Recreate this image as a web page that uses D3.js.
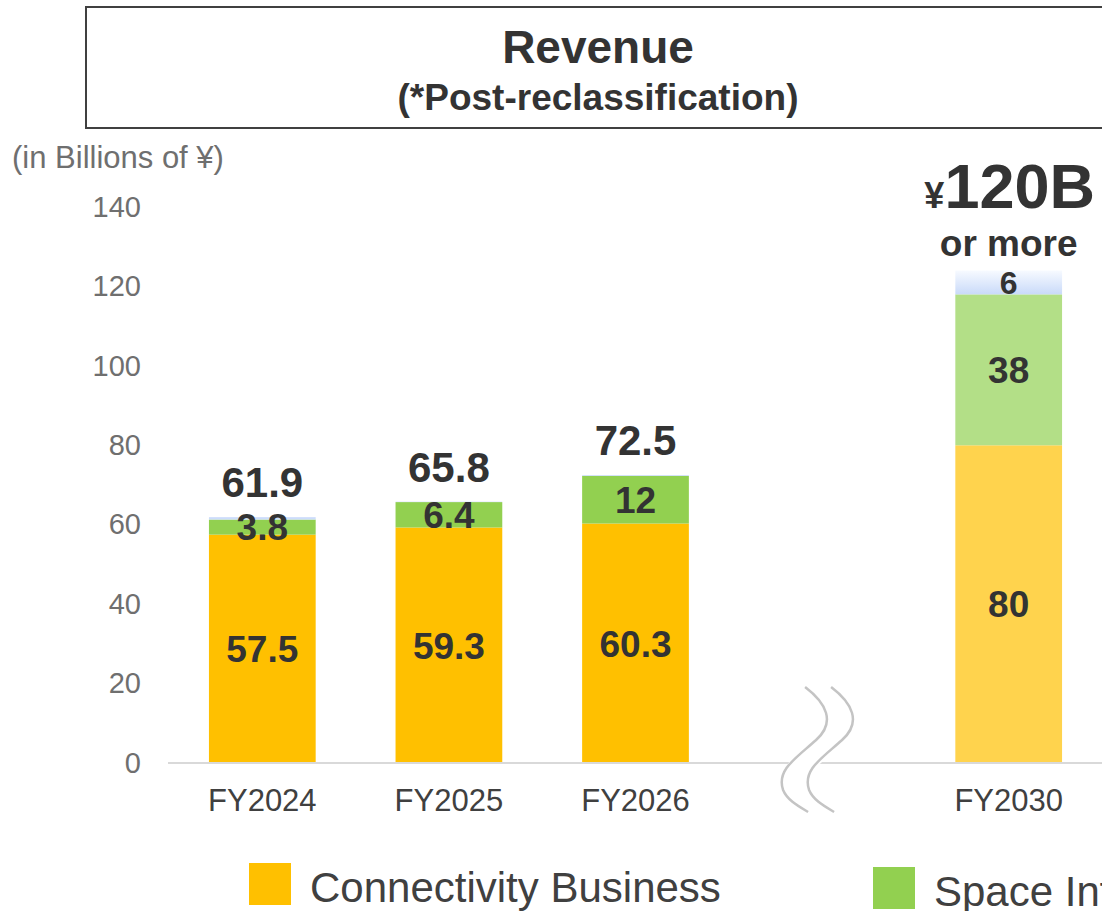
<!DOCTYPE html>
<html>
<head>
<meta charset="utf-8">
<script src="https://cdn.jsdelivr.net/npm/d3@7"></script>
<style>
  body { margin: 0; background: #fff; overflow: hidden; }
  svg { display: block; font-family: Arial, "Liberation Sans", sans-serif; }
  .ytick text { fill: #6f6f6f; font-size: 29px; }
  .xtick text { fill: #404040; font-size: 31px; }
  .seg { fill: #333; font-weight: bold; text-anchor: middle; }
  .total { fill: #333; font-weight: bold; font-size: 42px; text-anchor: middle; }
</style>
</head>
<body>
<div id="chart"></div>
<script>
// values (billions of yen)
var categories = ["FY2024", "FY2025", "FY2026", "FY2030"];
var connectivity = [57.5, 59.3, 60.3, 80];
var space = [3.8, 6.4, 12, 38];
var others = [0.6, 0.1, 0.2, 6];
var totalLabels = ["61.9", "65.8", "72.5", null];
var yTicks = [0, 20, 40, 60, 80, 100, 120, 140];
var seriesNames = ["Connectivity Business", "Space Infrastructure Business", "Others"];

var W = 1102, H = 911;

var colors = { conn: "#FFC000", space: "#92D050", other: "#CCDCFB" };
var colorsPlan = { conn: "#FFD34D", space: "#B3DF87", other: "#CCDCFB" };

var rows = categories.map(function(c, i) {
  return { cat: c, conn: connectivity[i], space: space[i], other: others[i], label: totalLabels[i], plan: c === "FY2030" };
});

var svg = d3.select("#chart").append("svg")
  .attr("width", W).attr("height", H);

var defs = svg.append("defs");
var grad = defs.append("linearGradient").attr("id", "planOther")
  .attr("x1", 0).attr("y1", 0).attr("x2", 0).attr("y2", 1);
grad.append("stop").attr("offset", "0%").attr("stop-color", "#f7faff");
grad.append("stop").attr("offset", "100%").attr("stop-color", "#c9daf9");

// scales -- an empty slot sits between FY2026 and FY2030 for the break mark
var x = d3.scaleBand()
  .domain(["FY2024", "FY2025", "FY2026", "gap", "FY2030"])
  .range([170, 1101])
  .paddingInner(0.428)
  .paddingOuter(0.2087);

var y = d3.scaleLinear().domain([0, 140]).range([763, 207]);

// title box
svg.append("rect")
  .attr("x", 86).attr("y", 7).attr("width", 1100).attr("height", 121)
  .attr("fill", "none").attr("stroke", "#404040").attr("stroke-width", 2);

svg.append("text")
  .attr("x", 598).attr("y", 63)
  .attr("text-anchor", "middle")
  .attr("font-size", 46).attr("font-weight", "bold").attr("fill", "#333")
  .text("Revenue");

svg.append("text")
  .attr("x", 598).attr("y", 110)
  .attr("text-anchor", "middle")
  .attr("font-size", 37).attr("font-weight", "bold").attr("fill", "#333")
  .text("(*Post-reclassification)");

// unit label
svg.append("text")
  .attr("x", 12).attr("y", 168)
  .attr("font-size", 31).attr("fill", "#6f6f6f")
  .text("(in Billions of ¥)");

// y axis (labels only)
var yAxis = d3.axisLeft(y).tickValues(yTicks).tickSize(0).tickPadding(0);
svg.append("g")
  .attr("class", "ytick")
  .attr("transform", "translate(141,0)")
  .call(yAxis)
  .call(function(g) { g.select(".domain").remove(); })
  .selectAll("text").attr("font-family", null).attr("font-size", null);

// stacked bars
var stack = d3.stack().keys(["conn", "space", "other"]);
var layers = stack(rows);

svg.append("g").selectAll("g")
  .data(layers).enter()
  .append("g")
  .selectAll("rect")
  .data(function(d) { return d.map(function(p) { return { p: p, key: d.key }; }); })
  .enter().append("rect")
    .attr("x", function(d) { return x(d.p.data.cat); })
    .attr("y", function(d) { return y(d.p[1]); })
    .attr("width", x.bandwidth())
    .attr("height", function(d) { return y(d.p[0]) - y(d.p[1]); })
    .attr("fill", function(d) {
      if (d.p.data.plan) return d.key === "other" ? "url(#planOther)" : colorsPlan[d.key];
      return colors[d.key];
    });

// segment labels
var segLabels = [];
layers.forEach(function(layer) {
  layer.forEach(function(p) {
    var v = p[1] - p[0];
    if (layer.key === "other" && !p.data.plan) return;
    segLabels.push({ cat: p.data.cat, mid: (p[0] + p[1]) / 2, v: v, key: layer.key });
  });
});

svg.append("g").selectAll("text")
  .data(segLabels).enter()
  .append("text")
    .attr("class", "seg")
    .attr("x", function(d) { return x(d.cat) + x.bandwidth() / 2; })
    .attr("y", function(d) { return y(d.mid); })
    .attr("dy", "0.36em")
    .attr("font-size", function(d) { return d.key === "other" ? 32 : 37; })
    .text(function(d) { return d3.format("~r")(+d.v.toFixed(1)); });

// totals
svg.append("g").selectAll("text")
  .data(rows.filter(function(d) { return d.label; })).enter()
  .append("text")
    .attr("class", "total")
    .attr("x", function(d) { return x(d.cat) + x.bandwidth() / 2; })
    .attr("y", function(d) { return y(d.conn + d.space + d.other) - 20; })
    .text(function(d) { return d.label; });

// FY2030 target label
var plan = rows[3];
var planX = x(plan.cat) + x.bandwidth() / 2;
var planTop = y(plan.conn + plan.space + plan.other);
var big = svg.append("text")
  .attr("x", planX + 1).attr("y", planTop - 63)
  .attr("text-anchor", "middle").attr("font-weight", "bold").attr("fill", "#333");
big.append("tspan").attr("font-size", 36).text("¥");
big.append("tspan").attr("font-size", 63).text("120B");

svg.append("text")
  .attr("x", planX).attr("y", planTop - 15)
  .attr("text-anchor", "middle").attr("font-weight", "bold")
  .attr("font-size", 37).attr("fill", "#333")
  .text("or more");

// baseline
svg.append("line")
  .attr("x1", 168).attr("x2", W)
  .attr("y1", y(0)).attr("y2", y(0))
  .attr("stroke", "#d9d9d9").attr("stroke-width", 2);

// x axis labels
var xAxis = d3.axisBottom(x).tickValues(categories).tickSize(0).tickPadding(26);
svg.append("g")
  .attr("class", "xtick")
  .attr("transform", "translate(0," + y(0) + ")")
  .call(xAxis)
  .call(function(g) { g.select(".domain").remove(); })
  .selectAll("text").attr("font-family", null).attr("font-size", null);

// axis break mark
var gx = x("gap") + x.bandwidth() / 2 - 17;
var gy = y(0);
function wave(dx) {
  var p = d3.path();
  p.moveTo(gx + dx, gy - 76);
  p.bezierCurveTo(gx + dx + 21, gy - 60, gx + dx + 31, gy - 41, gx + dx + 11, gy - 23);
  p.bezierCurveTo(gx + dx - 9, gy - 5, gx + dx - 29, gy + 7, gx + dx - 22, gy + 27);
  p.bezierCurveTo(gx + dx - 18, gy + 37, gx + dx - 7, gy + 43, gx + dx + 3, gy + 49);
  return p.toString();
}
var brk = svg.append("g");
brk.append("path").attr("d", wave(13)).attr("fill", "none")
  .attr("stroke", "#fff").attr("stroke-width", 24);
[0, 26].forEach(function(dx) {
  brk.append("path").attr("d", wave(dx)).attr("fill", "none")
    .attr("stroke", "#c4c4c4").attr("stroke-width", 2.5);
});

// legend (runs past the right edge, as in the source slide)
var legend = [
  { name: seriesNames[0], color: colors.conn, x: 249, y: 863 },
  { name: seriesNames[1], color: colors.space, x: 873, y: 867 }
];
var lg = svg.append("g").selectAll("g").data(legend).enter().append("g");
lg.append("rect")
  .attr("x", function(d) { return d.x; }).attr("y", function(d) { return d.y; })
  .attr("width", 42).attr("height", 42)
  .attr("fill", function(d) { return d.color; });
lg.append("text")
  .attr("x", function(d) { return d.x + 61; })
  .attr("y", function(d) { return d.y + 39; })
  .attr("font-size", 42).attr("fill", "#404040")
  .text(function(d) { return d.name; });
</script>
</body>
</html>
